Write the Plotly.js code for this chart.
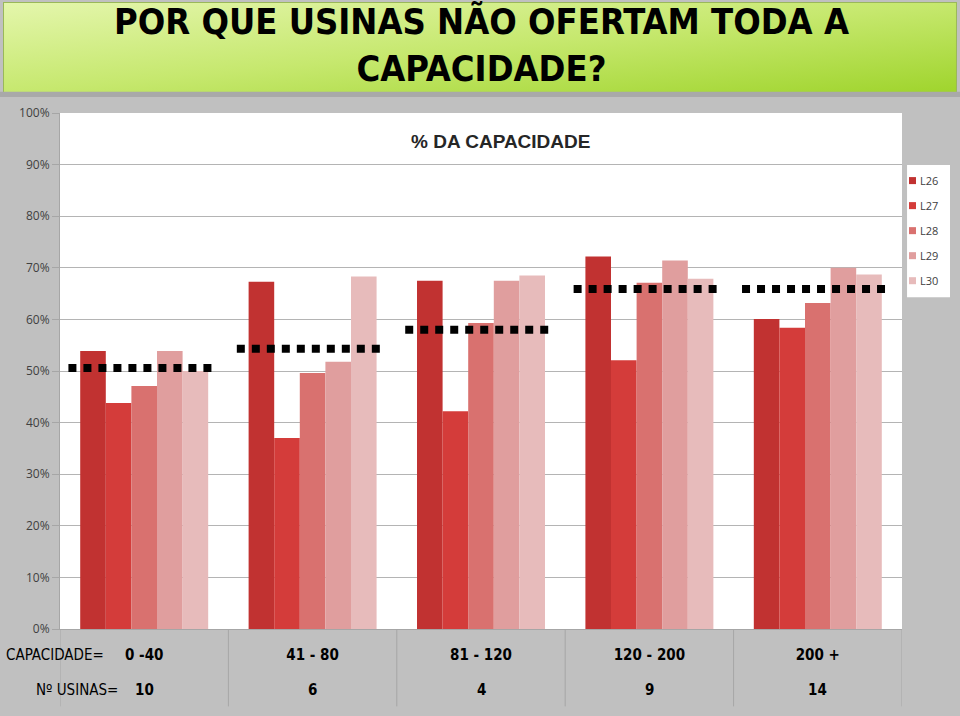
<!DOCTYPE html>
<html>
<head>
<meta charset="utf-8">
<script src="https://cdn.plot.ly/plotly-3.0.1.min.js"></script>
<style>
  html, body { margin: 0; padding: 0; background: #c0c0c0; }
  #chart { width: 960px; height: 716px; }
</style>
</head>
<body>
<div id="chart"></div>
<script>
var categories = ['0 -40', '41 - 80', '81 - 120', '120 - 200', '200 +'];
var usinas = ['10', '6', '4', '9', '14'];
var seriesNames = ['L26', 'L27', 'L28', 'L29', 'L30'];

var l26 = [53.9, 67.3, 67.5, 72.2, 60.1];
var l27 = [43.8, 37.0, 42.2, 52.1, 58.4];
var l28 = [47.1, 49.6, 59.3, 67.1, 63.2];
var l29 = [53.9, 51.8, 67.5, 71.4, 70.0];
var l30 = [50.0, 68.3, 68.5, 67.9, 68.7];

// nivel medio (linha pontilhada) por faixa
var media = [50.6, 54.3, 58.0, 65.9, 65.9];

var colors = ['#c13231', '#d43c3a', '#d9716f', '#e09e9e', '#e7bbbb'];
var values = [l26, l27, l28, l29, l30];

var narrow = 'DejaVu Sans Condensed, Liberation Sans Narrow, Arial Narrow, sans-serif';

var xs = categories.map(function (c, i) { return i; });

var data = [];
values.forEach(function (v, k) {
  data.push({
    type: 'bar',
    x: xs,
    y: v,
    name: seriesNames[k],
    marker: { color: colors[k], line: { width: 0 } },
    hoverinfo: 'y+name'
  });
});

media.forEach(function (m, i) {
  data.push({
    type: 'scatter',
    mode: 'lines',
    x: [i - 0.45, i + 0.4],
    y: [m, m],
    showlegend: false,
    hoverinfo: 'skip',
    line: { color: '#000', width: 8, dash: '8px,7px' }
  });
});

var shapes = [];
for (var i = 0; i <= categories.length; i++) {
  shapes.push({
    type: 'line', xref: 'x', yref: 'paper',
    x0: i - 0.5, x1: i - 0.5, y0: 0, y1: -0.15,
    line: { color: '#a6a6a6', width: 1 }
  });
}
// faixa cinza sob o cabecalho
shapes.push({
  type: 'rect', xref: 'paper', yref: 'paper', layer: 'below',
  x0: -0.0713, x1: 1.069, y0: 1.031, y1: 1.041,
  fillcolor: '#a9a9a9', line: { width: 0 }
});
// caixa da legenda
shapes.push({
  type: 'rect', xref: 'paper', yref: 'paper',
  x0: 1.006, x1: 1.057, y0: 0.643, y1: 0.899,
  fillcolor: '#ffffff', line: { width: 0 }
});

var annotations = [
  {
    text: '<b>% DA CAPACIDADE</b>', xref: 'paper', yref: 'paper',
    x: 0.523, y: 0.944, yanchor: 'middle', showarrow: false,
    font: { family: 'Arial, Liberation Sans', size: 19, color: '#262626' }
  },
  {
    text: 'CAPACIDADE=', xref: 'paper', yref: 'paper',
    x: -0.066, y: -0.05, xanchor: 'left', yanchor: 'middle', showarrow: false,
    font: { family: narrow, size: 15, color: '#000' }
  },
  {
    text: 'Nº USINAS=', xref: 'paper', yref: 'paper',
    x: -0.031, y: -0.118, xanchor: 'left', yanchor: 'middle', showarrow: false,
    font: { family: narrow, size: 15, color: '#000' }
  },
  {
    text: 'POR QUE USINAS NÃO OFERTAM TODA A<br>CAPACIDADE?', xref: 'paper', yref: 'paper',
    x: 0.5, y: 1.132, yanchor: 'middle', showarrow: false,
    font: { family: narrow, size: 36, color: '#000', weight: 'bold' }
  }
];
usinas.forEach(function (u, i) {
  annotations.push({
    text: '<b>' + u + '</b>', xref: 'x', yref: 'paper',
    x: i, y: -0.118, yanchor: 'middle', showarrow: false,
    font: { family: narrow, size: 15, color: '#000' }
  });
});

// legenda desenhada a mao (caixa estreita como no original)
seriesNames.forEach(function (n, k) {
  var yc = 0.869 - k * 0.0485;
  shapes.push({
    type: 'rect', xref: 'paper', yref: 'paper',
    x0: 1.0083, x1: 1.0166, y0: yc - 0.0068, y1: yc + 0.0068,
    fillcolor: colors[k], line: { width: 0 }
  });
  annotations.push({
    text: n, xref: 'paper', yref: 'paper',
    x: 1.0185, y: yc, xanchor: 'left', yanchor: 'middle', showarrow: false,
    font: { family: 'Open Sans, sans-serif', size: 11, color: '#404040' }
  });
});

var headerSvg = '<svg xmlns="http://www.w3.org/2000/svg" width="954" height="92">' +
  '<defs><linearGradient id="g" x1="0" y1="0" x2="1" y2="1">' +
  '<stop offset="0" stop-color="#e4f6ac"/><stop offset="0.5" stop-color="#c6e86e"/>' +
  '<stop offset="1" stop-color="#9fd42c"/></linearGradient></defs>' +
  '<rect x="0.5" y="0.5" width="953" height="91" fill="url(#g)" stroke="#9ab85a"/></svg>';

var layout = {
  width: 960,
  height: 716,
  margin: { l: 60, r: 58, t: 113, b: 87, autoexpand: false },
  paper_bgcolor: '#c0c0c0',
  plot_bgcolor: '#ffffff',
  barmode: 'group',
  bargap: 0.24,
  bargroupgap: 0,
  showlegend: false,
  xaxis: {
    range: [-0.5, 4.5],
    tickvals: xs,
    ticktext: categories.map(function (c) { return '<b>' + c + '</b>'; }),
    tickfont: { family: narrow, size: 15, color: '#000' },
    ticks: '',
    ticklabelstandoff: 12,
    showgrid: false,
    zeroline: false,
    showline: true,
    linecolor: '#a6a6a6',
    automargin: false,
    fixedrange: true
  },
  yaxis: {
    range: [0, 100],
    dtick: 10,
    ticksuffix: '%',
    tickfont: { family: 'Open Sans, sans-serif', size: 12, color: '#404040' },
    ticks: 'outside',
    ticklen: 7,
    tickcolor: '#a6a6a6',
    gridcolor: '#b4b4b4',
    showline: true,
    linecolor: '#a6a6a6',
    zeroline: false,
    automargin: false,
    fixedrange: true
  },
  shapes: shapes,
  annotations: annotations,
  images: [{
    source: 'data:image/svg+xml;charset=utf-8,' + encodeURIComponent(headerSvg),
    xref: 'paper', yref: 'paper',
    x: -0.0677, y: 1.2151, sizex: 1.133, sizey: 0.178,
    sizing: 'stretch', xanchor: 'left', yanchor: 'top', layer: 'below'
  }]
};

Plotly.newPlot('chart', data, layout, { displayModeBar: false });
</script>
</body>
</html>
